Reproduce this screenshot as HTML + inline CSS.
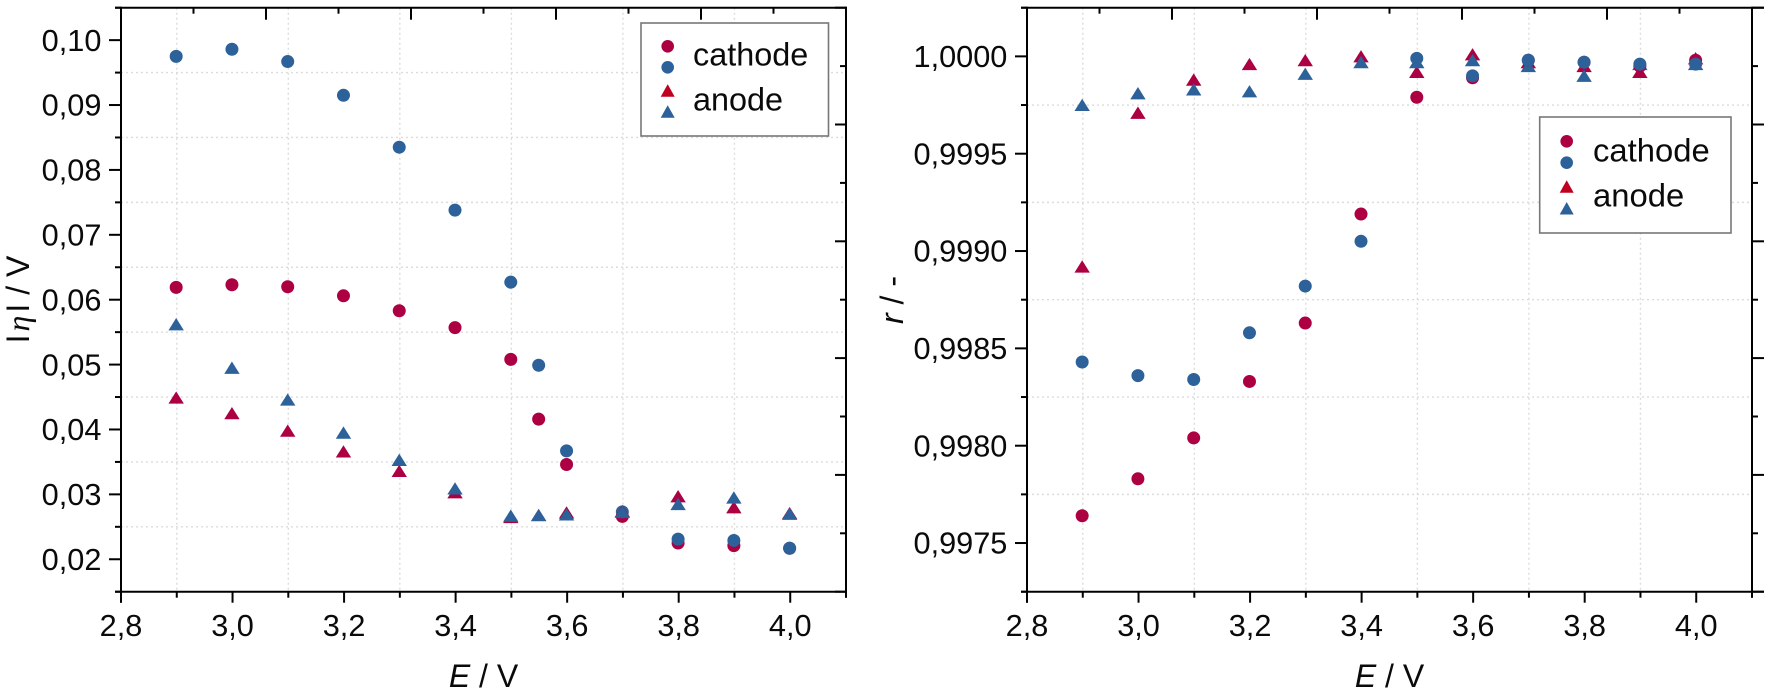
<!DOCTYPE html>
<html lang="en">
<head>
<meta charset="utf-8">
<title>Overpotential and correlation versus cell voltage</title>
<style>
html,body{margin:0;padding:0;background:#fff;}
#figure{display:block;width:1770px;height:694px;}
text{font-family:"Liberation Sans",sans-serif;fill:#0a0a0a;}
</style>
</head>
<body>
<svg id="figure" xmlns="http://www.w3.org/2000/svg" width="1770" height="694" viewBox="0 0 1770 694">
  <rect x="0" y="0" width="1770" height="694" fill="#fff"/>
  <g id="left-panel"></g>
  <g id="right-panel"></g>
  <text transform="translate(29,299.5) rotate(-90)" text-anchor="middle" font-size="32">I<tspan font-family="Liberation Serif" font-style="italic" dx="3">η</tspan><tspan dx="3">I / V</tspan></text>
  <text x="483.5" y="687" text-anchor="middle" font-size="32"><tspan font-style="italic">E</tspan> / V</text>
  <text transform="translate(903,300) rotate(-90)" text-anchor="middle" font-size="32"><tspan font-style="italic">r</tspan> / -</text>
  <text x="1389.5" y="687" text-anchor="middle" font-size="32"><tspan font-style="italic">E</tspan> / V</text>

  <g>
    <rect x="641" y="23" width="187.5" height="113" fill="#fff" stroke="#777" stroke-width="1.6"/>
    <circle cx="667.7" cy="46.3" r="6.3" fill="#ac0043"/>
    <circle cx="667.7" cy="67.3" r="6.3" fill="#2c6299"/>
    <polygon points="667.7,84.2 674.7,96.7 660.7,96.7" fill="#c00020"/>
    <polygon points="667.7,105.2 674.7,117.7 660.7,117.7" fill="#2c6299"/>
    <text x="693" y="65.5" font-size="32.4" fill="#000">cathode</text>
    <text x="693" y="110.5" font-size="32.4" fill="#000">anode</text>
  </g>
  <g>
    <rect x="1539.7" y="117" width="191.3" height="116" fill="#fff" stroke="#777" stroke-width="1.6"/>
    <circle cx="1566.7" cy="141.3" r="6.3" fill="#ac0043"/>
    <circle cx="1566.7" cy="162.7" r="6.3" fill="#2c6299"/>
    <polygon points="1566.7,180.2 1573.7,192.7 1559.7,192.7" fill="#c00020"/>
    <polygon points="1566.7,202 1573.7,214.5 1559.7,214.5" fill="#2c6299"/>
    <text x="1593" y="161.3" font-size="32.8" fill="#000">cathode</text>
    <text x="1593" y="206.7" font-size="32.8" fill="#000">anode</text>
  </g>
</svg>
<script>
// ---- shared x data ----
var etaVoltages = [2.9, 3.0, 3.1, 3.2, 3.3, 3.4, 3.5, 3.55, 3.6, 3.7, 3.8, 3.9, 4.0];
var rVoltages = [2.9, 3.0, 3.1, 3.2, 3.3, 3.4, 3.5, 3.6, 3.7, 3.8, 3.9, 4.0];

// ---- left chart: |eta| / V ----
var etaCathodeRed = [0.0619, 0.0623, 0.0620, 0.0606, 0.0583, 0.0557, 0.0508, 0.0416, 0.0346, 0.0266, 0.0225, 0.0221, 0.0217];
var etaCathodeBlue = [0.0975, 0.0986, 0.0967, 0.0915, 0.0835, 0.0738, 0.0627, 0.0499, 0.0367, 0.0273, 0.0231, 0.0229, 0.0217];
var etaAnodeRed = [0.0449, 0.0425, 0.0398, 0.0366, 0.0336, 0.0303, 0.0265, 0.0268, 0.0272, 0.0274, 0.0297, 0.0280, 0.0271];
var etaAnodeBlue = [0.0562, 0.0495, 0.0446, 0.0395, 0.0353, 0.0309, 0.0267, 0.0268, 0.0269, 0.0273, 0.0285, 0.0295, 0.0270];

// ---- right chart: r / - ----
var rCathodeRed = [0.99764, 0.99783, 0.99804, 0.99833, 0.99863, 0.99919, 0.99979, 0.99989, 0.99998, 0.99997, 0.99995, 0.99998];
var rCathodeBlue = [0.99843, 0.99836, 0.99834, 0.99858, 0.99882, 0.99905, 0.99999, 0.99990, 0.99998, 0.99997, 0.99996, 0.99996];
var rAnodeRed = [0.99892, 0.99971, 0.99988, 0.99996, 0.99998, 1.00000, 0.99992, 1.00001, 0.99997, 0.99995, 0.99992, 0.99999];
var rAnodeBlue = [0.99975, 0.99981, 0.99983, 0.99982, 0.99991, 0.99997, 0.99997, 0.99998, 0.99995, 0.99990, 0.99996, 0.99996];

// ---- axis values and tick labels ----
var xMajorTicks = [2.8, 3.0, 3.2, 3.4, 3.6, 3.8, 4.0];
var xMajorLabels = ["2,8", "3,0", "3,2", "3,4", "3,6", "3,8", "4,0"];
var xMinorTicks = [2.9, 3.1, 3.3, 3.5, 3.7, 3.9, 4.1];
var xDomain = [2.8, 4.1];

var etaMajorTicks = [0.02, 0.03, 0.04, 0.05, 0.06, 0.07, 0.08, 0.09, 0.10];
var etaMajorLabels = ["0,02", "0,03", "0,04", "0,05", "0,06", "0,07", "0,08", "0,09", "0,10"];
var etaMinorTicks = [0.015, 0.025, 0.035, 0.045, 0.055, 0.065, 0.075, 0.085, 0.095, 0.105];
var etaDomain = [0.015, 0.105];

var rMajorTicks = [0.9975, 0.9980, 0.9985, 0.9990, 0.9995, 1.0000];
var rMajorLabels = ["0,9975", "0,9980", "0,9985", "0,9990", "0,9995", "1,0000"];
var rMinorTicks = [0.99725, 0.99775, 0.99825, 0.99875, 0.99925, 0.99975, 1.00025];
var rDomain = [0.99725, 1.00025];

// the secondary (unlabelled) top and right axes tick independently of the data axes
var secondaryMajorFractions = [0, 0.2, 0.4, 0.6, 0.8, 1];
var secondaryMinorFractions = [0.1, 0.3, 0.5, 0.7, 0.9];

var SVG_NS = "http://www.w3.org/2000/svg";
var RED = "#ac0043";
var BLUE = "#2c6299";

function makeScale(domain, range) {
  return function (v) {
    return range[0] + (v - domain[0]) / (domain[1] - domain[0]) * (range[1] - range[0]);
  };
}

function addLine(parent, x1, y1, x2, y2, color, width, dash) {
  var line = document.createElementNS(SVG_NS, "line");
  line.setAttribute("x1", x1);
  line.setAttribute("y1", y1);
  line.setAttribute("x2", x2);
  line.setAttribute("y2", y2);
  line.setAttribute("stroke", color);
  line.setAttribute("stroke-width", width);
  if (dash) { line.setAttribute("stroke-dasharray", dash); }
  parent.appendChild(line);
  return line;
}

function addLabel(parent, x, y, anchor, str) {
  var t = document.createElementNS(SVG_NS, "text");
  t.setAttribute("x", x);
  t.setAttribute("y", y);
  t.setAttribute("text-anchor", anchor);
  t.setAttribute("font-size", "30.7");
  t.textContent = str;
  parent.appendChild(t);
  return t;
}

function addGroup(parent) {
  var g = document.createElementNS(SVG_NS, "g");
  parent.appendChild(g);
  return g;
}

function drawFrame(root, cfg) {
  var x0 = cfg.xRange[0], x1 = cfg.xRange[1], y0 = cfg.yRange[0], y1 = cfg.yRange[1];
  var sx = cfg.sx, sy = cfg.sy;
  var i, el;

  var grid = addGroup(root);
  
  
  for (i = 0; i < xMinorTicks.length - 1; i++) {
    el = addLine(grid, sx(xMinorTicks[i]), y1, sx(xMinorTicks[i]), y0, "#dcdcdc", 1.4, "2 3");
    
    
  }
  for (i = 1; i < cfg.yMinor.length - 1; i++) {
    el = addLine(grid, x0, sy(cfg.yMinor[i]), x1, sy(cfg.yMinor[i]), "#dcdcdc", 1.4, "2 3");
    
    
  }

  var axes = addGroup(root);
  
  

  el = addLine(axes, x0, y1 - 1, x0, y0 + 11, "#000", 2);
  
  
  el = addLine(axes, x0 - 6, y0, x1 + cfg.rightOver, y0, "#000", 2);
  
  
  el = addLine(axes, x0 - 6, y1, x1 + cfg.rightOver, y1, "#000", 2);
  
  
  el = addLine(axes, x1, y1 - 1, x1, y0 + 6, "#000", 2);
  
  

  for (i = 0; i < xMajorTicks.length; i++) {
    el = addLine(axes, sx(xMajorTicks[i]), y0, sx(xMajorTicks[i]), y0 + 11, "#000", 2);
    
    
    el = addLabel(axes, sx(xMajorTicks[i]), 636, "middle", xMajorLabels[i]);
    
    
  }
  for (i = 0; i < xMinorTicks.length; i++) {
    el = addLine(axes, sx(xMinorTicks[i]), y0, sx(xMinorTicks[i]), y0 + 6, "#000", 2);
    
    
  }
  for (i = 0; i < cfg.yMajor.length; i++) {
    el = addLine(axes, x0 - 12, sy(cfg.yMajor[i]), x0, sy(cfg.yMajor[i]), "#000", 2);
    
    
    el = addLabel(axes, x0 - 19.6, sy(cfg.yMajor[i]) + 10.7, "end", cfg.yLabels[i]);
    
    
  }
  for (i = 0; i < cfg.yMinor.length; i++) {
    el = addLine(axes, x0 - 6, sy(cfg.yMinor[i]), x0, sy(cfg.yMinor[i]), "#000", 2);
    
    
  }

  var px, py;
  for (i = 0; i < secondaryMajorFractions.length; i++) {
    px = x0 + (x1 - x0) * secondaryMajorFractions[i];
    el = addLine(axes, px, y1, px, y1 + 12, "#000", 2);
    
    
    py = y0 + (y1 - y0) * secondaryMajorFractions[i];
    el = addLine(axes, x1, py, x1 + cfg.rightMajor, py, "#000", 2);
    
    
  }
  for (i = 0; i < secondaryMinorFractions.length; i++) {
    px = x0 + (x1 - x0) * secondaryMinorFractions[i];
    el = addLine(axes, px, y1, px, y1 + 6, "#000", 2);
    
    
    py = y0 + (y1 - y0) * secondaryMinorFractions[i];
    el = addLine(axes, x1, py, x1 + cfg.rightMinor, py, "#000", 2);
    
    
  }
}

function drawCircles(root, name, xs, ys, sx, sy, color) {
  var g = addGroup(root);
  
  
  for (var i = 0; i < ys.length; i++) {
    var c = document.createElementNS(SVG_NS, "circle");
    c.setAttribute("cx", sx(xs[i]) - 0.6);
    c.setAttribute("cy", sy(ys[i]));
    c.setAttribute("r", 6.5);
    c.setAttribute("fill", color);
    
    
    g.appendChild(c);
  }
}

function drawTriangles(root, name, xs, ys, sx, sy, color) {
  var g = addGroup(root);
  
  
  for (var i = 0; i < ys.length; i++) {
    var cx = sx(xs[i]) - 0.6, cy = sy(ys[i]);
    var p = document.createElementNS(SVG_NS, "polygon");
    p.setAttribute("points", cx + "," + (cy - 6.3) + " " + (cx + 7.7) + "," + (cy + 6) + " " + (cx - 7.7) + "," + (cy + 6));
    p.setAttribute("fill", color);
    
    
    g.appendChild(p);
  }
}

// ---- left chart ----
var leftX = makeScale(xDomain, [121, 846]);
var leftY = makeScale(etaDomain, [591.7, 7.7]);
var leftRoot = document.getElementById("left-panel");
drawFrame(leftRoot, {
  xRange: [121, 846], yRange: [591.7, 7.7], sx: leftX, sy: leftY,
  yMajor: etaMajorTicks, yLabels: etaMajorLabels, yMinor: etaMinorTicks,
  rightMajor: -11, rightMinor: -6, rightOver: 1
});
drawCircles(leftRoot, "cathode-red-series", etaVoltages, etaCathodeRed, leftX, leftY, RED);
drawCircles(leftRoot, "cathode-blue-series", etaVoltages, etaCathodeBlue, leftX, leftY, BLUE);
drawTriangles(leftRoot, "anode-red-series", etaVoltages, etaAnodeRed, leftX, leftY, RED);
drawTriangles(leftRoot, "anode-blue-series", etaVoltages, etaAnodeBlue, leftX, leftY, BLUE);

// ---- right chart ----
var rightX = makeScale(xDomain, [1027, 1752]);
var rightY = makeScale(rDomain, [591.7, 7.7]);
var rightRoot = document.getElementById("right-panel");
drawFrame(rightRoot, {
  xRange: [1027, 1752], yRange: [591.7, 7.7], sx: rightX, sy: rightY,
  yMajor: rMajorTicks, yLabels: rMajorLabels, yMinor: rMinorTicks,
  rightMajor: 12, rightMinor: 6, rightOver: 12
});
drawTriangles(rightRoot, "anode-red-series", rVoltages, rAnodeRed, rightX, rightY, RED);
drawTriangles(rightRoot, "anode-blue-series", rVoltages, rAnodeBlue, rightX, rightY, BLUE);
drawCircles(rightRoot, "cathode-red-series", rVoltages, rCathodeRed, rightX, rightY, RED);
drawCircles(rightRoot, "cathode-blue-series", rVoltages, rCathodeBlue, rightX, rightY, BLUE);
</script>
</body>
</html>
